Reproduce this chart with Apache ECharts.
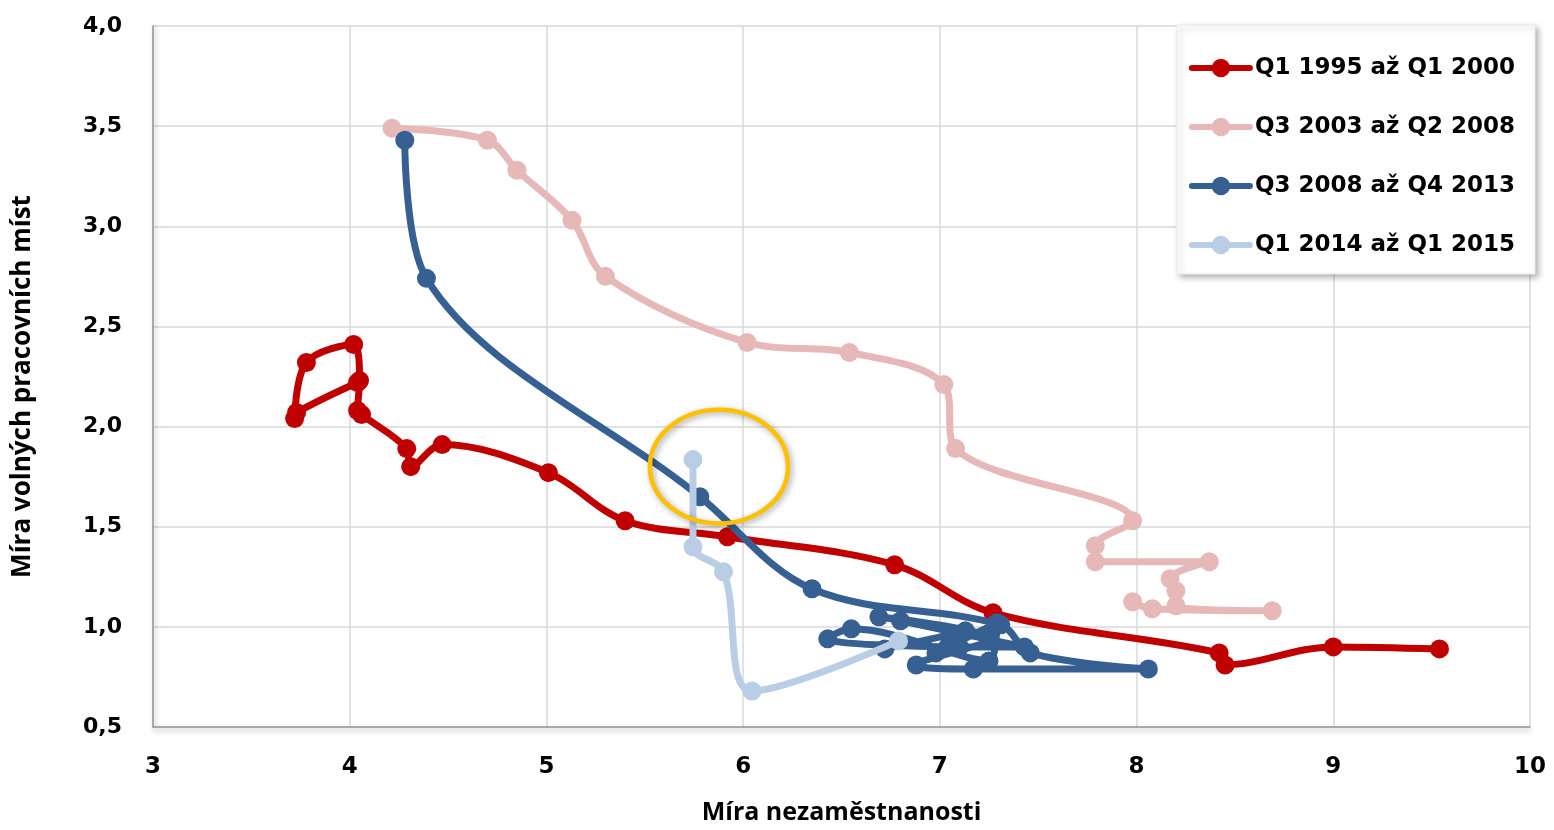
<!DOCTYPE html>
<html>
<head>
<meta charset="utf-8">
<script src="https://cdn.jsdelivr.net/npm/echarts@6/dist/echarts.min.js"></script>
<style>
html,body{margin:0;padding:0;background:#fff;}
#c{width:1554px;height:830px;}
</style>
</head>
<body>
<div id="c"></div>
<script>
// ---- data ----
const seriesNames = ['Q1 1995 až Q1 2000', 'Q3 2003 až Q2 2008', 'Q3 2008 až Q4 2013', 'Q1 2014 až Q1 2015'];
const seriesColors = ['#C00000', '#E6B9B8', '#376092', '#B9CDE5'];

const red = [
  [4.04,2.22],[3.73,2.07],[3.72,2.04],[3.78,2.32],[4.02,2.41],[4.05,2.23],[4.04,2.08],[4.06,2.06],
  [4.29,1.89],[4.31,1.80],[4.47,1.91],[5.01,1.77],[5.40,1.53],[5.92,1.45],[6.77,1.31],[7.27,1.07],
  [8.42,0.87],[8.45,0.81],[9.00,0.90],[9.54,0.89]
];
const pink = [
  [7.98,1.125],[8.08,1.09],[8.69,1.08],[8.20,1.105],[8.20,1.18],[8.17,1.24],[8.37,1.325],[7.79,1.325],
  [7.79,1.405],[7.98,1.53],[7.08,1.89],[7.02,2.21],[6.54,2.37],[6.02,2.42],[5.30,2.75],[5.13,3.03],
  [4.85,3.28],[4.70,3.43],[4.215,3.49]
];
const darkBlue = [
  [4.28,3.43],[4.39,2.74],[5.78,1.65],[6.35,1.19],[7.31,1.01],[7.46,0.87],[8.06,0.79],[7.17,0.79],
  [6.88,0.81],[7.25,0.94],[6.69,1.05],[7.13,0.98],[6.80,1.03],[7.43,0.90],[7.10,0.90],[6.43,0.94],
  [6.55,0.99],[7.25,0.83],[7.29,1.02],[6.98,0.87],[7.05,0.96],[6.72,0.89]
];
const lightBlue = [
  [6.79,0.93],[6.045,0.68],[5.90,1.275],[5.745,1.40],[5.745,1.835]
];
const xTicks = {min: 3, max: 10, interval: 1};
const yTicks = {min: 0.5, max: 4, interval: 0.5};
const xName = 'Míra nezaměstnanosti';
const yName = 'Míra volných pracovních míst';
// highlighted region (data units): centre and radii
const ellipseCenter = [5.877, 1.80];
const ellipseRadius = [0.351, 0.284];

const allData = [red, pink, darkBlue, lightBlue];

const chart = echarts.init(document.getElementById('c'), null, {renderer: 'canvas'});

const tickFont = 'DejaVu Sans';
const nameFont = 'Open Sans';

const option = {
  animation: false,
  backgroundColor: '#fff',
  grid: {left: 153, right: 24, top: 26, bottom: 101, containLabel: false},
  xAxis: {
    type: 'value', min: xTicks.min, max: xTicks.max, interval: xTicks.interval,
    name: xName, nameLocation: 'middle', nameGap: 73,
    nameTextStyle: {fontFamily: nameFont, fontWeight: 'bold', fontSize: 25, color: '#000'},
    axisLine: {show: true, onZero: false, lineStyle: {color: '#9a9a9a', width: 1.5,
      shadowColor: 'rgba(0,0,0,0.35)', shadowBlur: 5, shadowOffsetY: 3}},
    axisTick: {show: false},
    axisLabel: {margin: 29, fontFamily: tickFont, fontWeight: 'bold', fontSize: 23, color: '#000'},
    splitLine: {show: true, lineStyle: {color: '#d9d9d9', width: 1.5}}
  },
  yAxis: {
    type: 'value', min: yTicks.min, max: yTicks.max, interval: yTicks.interval,
    name: yName, nameLocation: 'middle', nameGap: 117, nameRotate: 90,
    nameTextStyle: {fontFamily: nameFont, fontWeight: 'bold', fontSize: 26, color: '#000', padding: [0, 20, 0, 0]},
    axisLine: {show: true, onZero: false, lineStyle: {color: '#9a9a9a', width: 1.5,
      shadowColor: 'rgba(0,0,0,0.3)', shadowBlur: 5, shadowOffsetX: 2}},
    axisTick: {show: false},
    axisLabel: {margin: 31, fontFamily: tickFont, fontWeight: 'bold', fontSize: 22, color: '#000',
      formatter: v => v.toFixed(1).replace('.', ',')},
    splitLine: {show: true, lineStyle: {color: '#d9d9d9', width: 1.5}}
  },
  legend: {
    orient: 'vertical', right: 19, top: 25,
    data: seriesNames,
    itemWidth: 58, itemHeight: 23, itemGap: 29,
    padding: [28, 20, 14, 12],
    backgroundColor: '#fff', borderColor: '#ececec', borderWidth: 1,
    shadowColor: 'rgba(0,0,0,0.3)', shadowBlur: 6, shadowOffsetX: 3, shadowOffsetY: 3,
    lineStyle: {width: 6},
    textStyle: {fontFamily: tickFont, fontWeight: 'bold', fontSize: 23, color: '#000', lineHeight: 30}
  },
  series: allData.map((d, i) => ({
    name: seriesNames[i],
    type: 'line',
    data: d,
    smooth: 0.35,
    symbol: 'circle',
    symbolSize: 19,
    showSymbol: true,
    color: seriesColors[i],
    lineStyle: {width: 7, color: seriesColors[i], cap: 'round', join: 'round'},
    itemStyle: {color: seriesColors[i]},
    emphasis: {disabled: true},
    z: 2 + i
  }))
};

chart.setOption(option);

function placeEllipse() {
  const c = chart.convertToPixel({gridIndex: 0}, ellipseCenter);
  const e = chart.convertToPixel({gridIndex: 0}, [ellipseCenter[0] + ellipseRadius[0], ellipseCenter[1] + ellipseRadius[1]]);
  chart.setOption({
    graphic: [{
      type: 'ellipse', z: 100,
      shape: {cx: c[0], cy: c[1], rx: Math.abs(e[0] - c[0]), ry: Math.abs(c[1] - e[1])},
      style: {fill: 'none', stroke: '#FFC000', lineWidth: 4.5,
        shadowColor: 'rgba(0,0,0,0.35)', shadowBlur: 6, shadowOffsetX: 2, shadowOffsetY: 2}
    }]
  });
}
placeEllipse();
</script>
</body>
</html>
